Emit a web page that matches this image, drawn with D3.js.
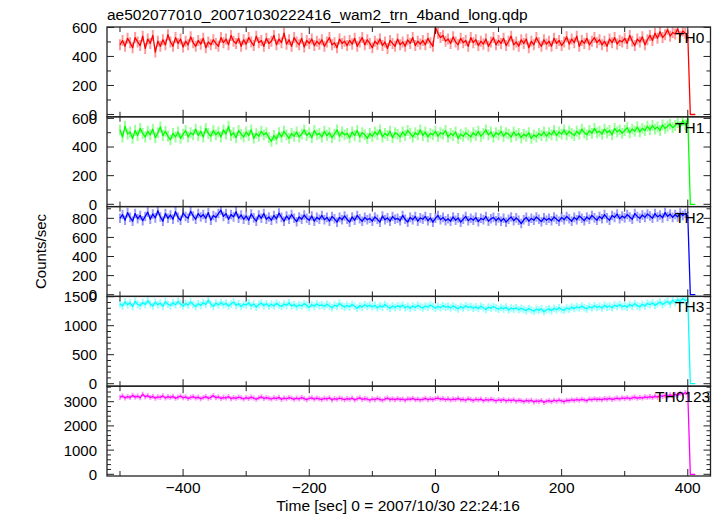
<!DOCTYPE html>
<html><head><meta charset="utf-8">
<script src="https://cdn.jsdelivr.net/npm/d3@7"></script>
<style>body{margin:0;background:#fff}svg{display:block}text{font-family:"Liberation Sans",Arial,sans-serif;fill:#000}</style>
</head><body><svg id="c" width="717" height="516"></svg>
<script>
const title = "ae502077010_20071030222416_wam2_trn_4band_long.qdp";
const xLabel = "Time [sec] 0 = 2007/10/30 22:24:16";
const yLabel = "Counts/sec";
const bandNames = ["TH0","TH1","TH2","TH3","TH0123"];
const bandColors = ["#ff0000","#00ff00","#0000ff","#00ffff","#ff00ff"];
const bandErrors = [38, 38, 50, 65, 105];
const binStart = -500, binWidth = 4;
const xTicksMajor = [-400,-200,0,200,400];
const xTicksMinor = [-500,-300,-100,100,300];

const th0 = [
480,510,470,525,495,460,530,500,475,540,
455,520,490,545,430,505,470,515,480,550,
500,470,530,490,520,465,505,480,535,495,
470,510,485,525,460,500,480,515,490,470,
530,495,520,480,545,505,490,525,470,515,
485,530,500,475,540,495,510,470,525,490,
505,545,480,520,495,560,485,515,470,530,
500,480,525,465,510,490,520,475,505,485,
515,470,500,530,480,495,460,520,490,505,
475,510,485,525,470,500,530,480,515,490,
460,505,485,520,475,500,455,510,490,470,
520,480,500,470,515,490,530,475,505,485,
510,480,525,495,470,600,560,530,545,505,
520,490,535,500,480,525,495,510,470,530,
495,515,475,505,485,520,470,500,530,480,
510,490,525,475,505,540,480,500,470,515,
490,520,460,505,480,530,495,470,515,485,
505,470,525,490,510,475,500,535,485,520,
495,540,470,510,490,525,480,505,530,495,
515,480,505,470,520,495,530,485,510,500,
525,490,545,505,475,520,500,535,480,515,
545,510,560,525,570,530,550,585,540,565,
555,590,540,575,560,545,
0,0,0];
const th1 = [
520,470,545,490,505,460,515,480,530,495,
470,510,485,525,465,500,540,480,510,475,
450,495,470,505,460,490,515,470,500,485,
525,480,510,470,530,495,475,515,485,505,
470,520,490,545,480,500,465,515,490,470,
505,480,520,460,495,475,510,485,500,465,
440,480,455,500,470,510,485,460,495,475,
505,470,490,520,480,500,465,515,485,495,
470,510,480,500,465,490,520,475,505,485,
495,465,505,480,515,470,500,485,460,495,
475,505,485,520,470,495,480,510,465,500,
490,470,505,480,515,495,470,500,485,520,
480,505,470,495,485,510,475,500,490,515,
470,495,480,505,460,490,475,500,485,470,
500,480,510,475,495,520,485,505,470,500,
485,510,475,500,490,470,505,480,495,465,
490,475,500,460,485,470,495,480,505,475,
500,485,515,480,505,490,520,485,510,495,
480,510,490,525,500,485,515,495,530,500,
510,490,525,500,515,485,530,505,520,495,
515,535,500,525,510,540,505,530,515,545,
520,550,525,540,515,555,530,545,560,535,
550,570,540,585,555,600,
0,0,0];
const th2 = [
800,840,780,860,810,770,850,795,830,775,
820,865,790,845,805,880,815,770,850,800,
835,790,870,810,780,855,820,800,875,825,
790,850,815,840,800,860,780,830,810,850,
885,820,850,790,840,815,870,800,835,790,
825,780,845,805,770,835,800,850,790,815,
780,830,795,855,810,770,825,790,840,800,
765,815,790,835,800,780,825,770,810,790,
830,785,810,770,820,795,760,810,785,825,
790,760,815,780,830,795,770,810,785,800,
770,815,790,760,825,785,805,770,820,790,
800,775,830,790,760,810,785,820,770,805,
790,820,775,805,760,800,830,785,810,775,
795,770,815,780,805,760,790,820,775,800,
780,810,765,800,785,820,770,795,810,775,
805,770,800,760,790,815,775,805,780,745,
785,810,770,800,780,815,790,765,805,780,
800,775,815,790,770,810,785,820,795,770,
810,785,825,800,775,815,790,830,805,780,
820,795,840,805,780,830,810,845,795,825,
805,840,815,790,850,820,800,835,810,845,
825,800,850,815,835,805,860,820,845,810,
840,815,855,830,850,825,
0,0,0];
const th3 = [
1380,1340,1410,1360,1395,1330,1420,1370,1345,1400,
1365,1430,1375,1340,1405,1360,1390,1335,1415,1370,
1345,1395,1360,1420,1375,1340,1385,1355,1410,1365,
1330,1380,1350,1400,1365,1440,1370,1335,1390,1355,
1400,1360,1385,1340,1375,1410,1350,1380,1330,1370,
1355,1395,1340,1375,1320,1365,1390,1345,1380,1335,
1370,1340,1385,1355,1330,1375,1350,1395,1340,1365,
1325,1360,1340,1380,1350,1315,1365,1335,1375,1345,
1360,1330,1370,1340,1310,1355,1330,1385,1345,1320,
1350,1325,1365,1335,1300,1345,1320,1360,1330,1355,
1325,1350,1310,1345,1320,1365,1330,1300,1340,1315,
1345,1320,1355,1310,1335,1300,1340,1315,1350,1325,
1305,1340,1320,1355,1330,1300,1335,1310,1345,1320,
1335,1305,1340,1315,1290,1330,1305,1345,1315,1330,
1300,1325,1295,1335,1310,1280,1320,1300,1330,1305,
1285,1315,1290,1320,1270,1305,1285,1310,1275,1300,
1280,1260,1295,1270,1250,1285,1265,1290,1240,1275,
1290,1260,1300,1275,1310,1280,1265,1305,1285,1320,
1295,1325,1305,1340,1310,1290,1330,1305,1345,1315,
1335,1305,1350,1320,1340,1310,1355,1330,1365,1325,
1345,1320,1365,1335,1380,1345,1325,1370,1340,1385,
1360,1395,1350,1380,1410,1365,1395,1420,1375,1440,
1400,1450,1415,1470,1430,1460,
0,0,0];
const th0123 = [
3180,3240,3150,3210,3170,3260,3190,3230,3160,3310,
3200,3250,3170,3220,3140,3200,3180,3240,3150,3210,
3170,3220,3140,3190,3230,3160,3200,3130,3180,3210,
3150,3190,3120,3170,3210,3140,3180,3250,3160,3200,
3130,3180,3150,3210,3120,3170,3140,3190,3160,3110,
3170,3130,3190,3150,3100,3160,3200,3130,3170,3140,
3110,3160,3130,3180,3090,3150,3120,3170,3140,3100,
3150,3110,3170,3130,3080,3140,3160,3100,3150,3120,
3090,3140,3110,3160,3070,3130,3100,3150,3120,3080,
3130,3100,3150,3070,3120,3160,3090,3130,3110,3060,
3120,3080,3140,3100,3060,3110,3150,3090,3120,3080,
3130,3090,3110,3060,3120,3100,3140,3080,3110,3070,
3100,3140,3080,3120,3090,3130,3150,3100,3130,3080,
3120,3070,3110,3090,3140,3080,3100,3060,3120,3090,
3050,3100,3070,3110,3040,3090,3060,3100,3070,3030,
3080,3050,3090,3030,3070,3040,3080,3020,3060,3040,
3000,3050,3020,3060,2990,3030,3010,3050,2970,3020,
3040,3000,3060,3020,3070,3030,3000,3060,3040,3080,
3050,3090,3060,3100,3070,3040,3110,3080,3120,3090,
3110,3080,3130,3100,3140,3090,3120,3150,3110,3160,
3130,3170,3120,3160,3190,3140,3180,3150,3200,3170,
3210,3170,3230,3190,3250,3220,3260,3210,3280,3240,
3300,3260,3350,3310,3380,3330,
0,0,0];

const yDomains = [[-16,603],[-16,611],[-18,923],[-43,1505],[-70,3640]];
const yMajorTicks = [[0,200,400,600],[0,200,400,600],[0,200,400,600,800],[0,500,1000,1500],[0,1000,2000,3000]];
const yMinorStep = [100,100,100,100,200];
const series = [th0, th1, th2, th3, th0123];

const svg = d3.select("#c");
const L = 107, R = 710.5, TOP = 27, BOT = 476;
const ph = (BOT - TOP) / 5;
const x = d3.scaleLinear().domain([-520.6, 436]).range([L, R]);
const ink = "#222";

svg.append("text").attr("x", L).attr("y", 20).attr("font-size", 15.5).text(title);

series.forEach((vals, i) => {
  const y0 = TOP + i * ph, y1 = y0 + ph;
  const y = d3.scaleLinear().domain(yDomains[i]).range([y1, y0]);
  const g = svg.append("g");
  const cid = "clip" + i;
  svg.append("clipPath").attr("id", cid).append("rect").attr("x", L).attr("y", y0).attr("width", R - L).attr("height", ph);
  const tx = k => x(binStart + k * binWidth);
  const err = bandErrors[i];
  g.append("g").attr("clip-path", `url(#${cid})`).selectAll("line").data(vals.filter(v => v > 0)).enter().append("line")
    .attr("x1", (d, k) => tx(k)).attr("x2", (d, k) => tx(k))
    .attr("y1", d => y(d - err)).attr("y2", d => y(d + err))
    .attr("stroke", bandColors[i]).attr("stroke-opacity", 0.4).attr("stroke-width", 2);
  const line = d3.line().x((d, k) => tx(k)).y(d => y(d));
  g.append("path").datum(vals).attr("clip-path", `url(#${cid})`)
    .attr("d", line).attr("fill", "none").attr("stroke", bandColors[i]).attr("stroke-width", 1.3).attr("stroke-linejoin", "round");

  const maxV = yDomains[i][1];
  const minor = d3.range(0, maxV + 1, yMinorStep[i]).filter(v => !yMajorTicks[i].includes(v));
  const tk = g.append("g").attr("stroke", ink).attr("stroke-width", 1);
  yMajorTicks[i].forEach(v => {
    tk.append("line").attr("x1", L).attr("x2", L + 7).attr("y1", y(v)).attr("y2", y(v));
    tk.append("line").attr("x1", R).attr("x2", R - 7).attr("y1", y(v)).attr("y2", y(v));
  });
  minor.forEach(v => {
    tk.append("line").attr("x1", L).attr("x2", L + 4).attr("y1", y(v)).attr("y2", y(v));
    tk.append("line").attr("x1", R).attr("x2", R - 4).attr("y1", y(v)).attr("y2", y(v));
  });
  xTicksMajor.forEach(v => {
    tk.append("line").attr("x1", x(v)).attr("x2", x(v)).attr("y1", y0).attr("y2", y0 + 7);
    tk.append("line").attr("x1", x(v)).attr("x2", x(v)).attr("y1", y1).attr("y2", y1 - 7);
  });
  xTicksMinor.forEach(v => {
    tk.append("line").attr("x1", x(v)).attr("x2", x(v)).attr("y1", y0).attr("y2", y0 + 5);
    tk.append("line").attr("x1", x(v)).attr("x2", x(v)).attr("y1", y1).attr("y2", y1 - 5);
  });
  g.selectAll("text.yl").data(yMajorTicks[i]).enter().append("text")
    .attr("x", 97).attr("y", d => y(d)).attr("dy", "0.36em").attr("text-anchor", "end").attr("font-size", 15).text(d => d);
  g.append("rect").attr("x", L).attr("y", y0).attr("width", R - L).attr("height", ph)
    .attr("fill", "none").attr("stroke", ink).attr("stroke-width", 1.3);
  const lx = i === 4 ? 655 : 675;
  g.append("text").attr("x", lx).attr("y", y0 + 16).attr("font-size", 15.5).text(bandNames[i]);
});

svg.selectAll("text.xl").data(xTicksMajor).enter().append("text")
  .attr("x", d => x(d)).attr("y", 493).attr("text-anchor", "middle").attr("font-size", 15.5)
  .text(d => d < 0 ? "\u2212" + Math.abs(d) : d);
svg.append("text").attr("x", 398).attr("y", 511).attr("text-anchor", "middle").attr("font-size", 15.5).text(xLabel);
svg.append("text").attr("transform", `translate(46,${(TOP + BOT) / 2}) rotate(-90)`).attr("text-anchor", "middle").attr("font-size", 15).text(yLabel);
</script></body></html>
